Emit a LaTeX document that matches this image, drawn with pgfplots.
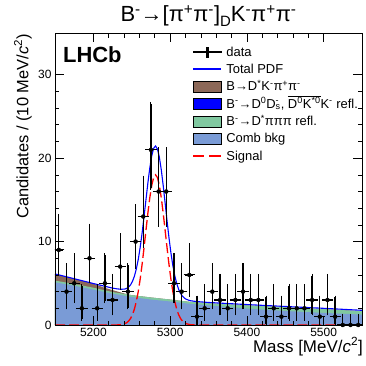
\documentclass[border=0pt]{standalone}
\usepackage{fontspec}
\setmainfont{Liberation Sans}
\usepackage{pgfplots}
\usepackage{pgfplotstable}
\pgfplotsset{compat=1.18}

\definecolor{combc}{RGB}{122,155,214}
\definecolor{greenc}{RGB}{128,200,160}
\definecolor{brownc}{RGB}{140,104,88}
\definecolor{dblue}{RGB}{0,0,255}

% data: 10 MeV bins, asymmetric Poisson errors
\pgfplotstableread{
x    y  ex ep   em
5155 9  5 4.11 2.94
5165 4  5 3.16 1.91
5175 5  5 3.38 2.16
5185 2  5 2.64 1.29
5195 8  5 3.95 2.77
5205 2  5 2.64 1.29
5215 5  5 3.38 2.16
5225 3  5 2.92 1.63
5235 7  5 3.77 2.58
5245 4  5 3.16 1.91
5255 10 5 4.27 3.11
5265 13 5 4.70 3.57
5275 21 5 5.53 4.56
5285 16 5 5.06 4.00
5295 16 5 5.06 4.00
5305 5  5 3.38 2.16
5315 4  5 3.16 1.91
5325 6  5 3.58 2.38
5335 1  5 2.30 0.83
5345 2  5 2.64 1.29
5355 4  5 3.16 1.91
5365 3  5 2.92 1.63
5375 2  5 2.64 1.29
5385 3  5 2.92 1.63
5395 4  5 3.16 1.91
5405 3  5 2.92 1.63
5415 3  5 2.92 1.63
5425 1  5 2.30 0.83
5435 2  5 2.64 1.29
5445 1  5 2.30 0.83
5455 2  5 2.64 1.29
5465 2  5 2.64 1.29
5475 2  5 2.64 1.29
5485 3  5 2.92 1.63
5495 1  5 2.30 0.83
5505 3  5 2.92 1.63
5515 1  5 2.30 0.83
5525 0  5 1.15 0
5535 0  5 1.15 0
5545 0  5 1.15 0
}\datatab

\newcommand{\sups}[1]{\textsuperscript{#1}}
\newcommand{\Ds}{D\makebox[0pt][l]{\textsuperscript{-}}\textsubscript{s}}

\begin{document}
\begin{tikzpicture}
\useasboundingbox (-55bp,-41bp) rectangle (311bp,325bp);
\begin{axis}[
  at={(0,0)}, anchor=south west,
  scale only axis, width=307bp, height=292bp,
  xmin=5150, xmax=5550, ymin=0, ymax=35,
  xtick={5200,5300,5400,5500}, minor x tick num=4,
  ytick={0,10,20,30}, minor y tick num=4,
  tick align=inside, xtick pos=both, ytick pos=both,
  xticklabel pos=lower, yticklabel pos=left,
  major tick length=9bp, minor tick length=4.5bp,
  axis line style={line width=0.8bp},
  every tick/.style={black, line width=0.6bp},
  tick label style={font=\fontsize{12}{14}\selectfont},
  /pgf/number format/assume math mode=true,
  /pgf/number format/1000 sep={},
  axis on top,
  legend cell align=left,
  legend style={at={(rel axis cs:0.4495,0.9546)}, anchor=north west,
    draw=none, fill=none, inner sep=0pt, outer sep=0pt,
    row sep=5.8bp, column sep=5bp,
    font=\fontsize{13}{15}\selectfont,
    nodes={inner sep=0pt, text height=10bp, text depth=1.5bp}},
]
% legend, in the reference's order
\addlegendimage{legend image code/.code={
  \fill[fill=black] (0bp,-0.6bp) rectangle (28bp,0.6bp);
  \fill[fill=black] (13.4bp,-5bp) rectangle (14.6bp,5bp);
  \fill[fill=black] (14bp,0bp) circle (1.9bp);}}
\addlegendentry{data}
\addlegendimage{legend image code/.code={
  \fill[fill=dblue, draw=none] (0bp,-1bp) rectangle (28bp,1bp);}}
\addlegendentry{Total PDF}
\addlegendimage{legend image code/.code={
  \fill[fill=brownc] (0bp,-5.5bp) rectangle (28bp,5.5bp);}}
\addlegendentry{B→D\sups{*}K\sups{-}π\sups{+}π\sups{-}}
\addlegendimage{legend image code/.code={
  \fill[fill=dblue] (0bp,-5.5bp) rectangle (28bp,5.5bp);}}
\addlegendentry{B\sups{-}→D\sups{0}\Ds, $\overline{\mbox{D\sups{0}K\sups{*0}}}$K\sups{-} refl.}
\addlegendimage{legend image code/.code={
  \fill[fill=greenc] (0bp,-5.5bp) rectangle (28bp,5.5bp);}}
\addlegendentry{B\sups{-}→D\sups{*}πππ refl.}
\addlegendimage{legend image code/.code={
  \fill[fill=combc] (0bp,-5.5bp) rectangle (28bp,5.5bp);}}
\addlegendentry{Comb bkg}
\addlegendimage{legend image code/.code={
  \fill[fill=red, draw=none] (0bp,-1bp) rectangle (11bp,1bp);
  \fill[fill=red, draw=none] (16bp,-1bp) rectangle (28bp,1bp);}}
\addlegendentry{Signal}

% stacked background components
\addplot[fill=brownc, draw=none, forget plot] coordinates {
 (5150,6.10) (5175,5.55) (5200,4.95) (5215,4.45) (5230,4.05) (5245,3.66)
 (5250,3.58) (5275,3.30) (5300,3.05) (5325,2.78) (5350,2.60) (5400,2.35)
 (5450,2.12) (5500,1.90) (5550,1.66)} \closedcycle;
\addplot[fill=greenc, draw=none, forget plot] coordinates {
 (5150,5.32) (5175,4.92) (5200,4.47) (5225,3.95) (5250,3.58) (5275,3.30)
 (5300,3.05) (5325,2.78) (5350,2.60) (5400,2.35) (5450,2.12) (5500,1.90)
 (5550,1.66)} \closedcycle;
\addplot[fill=combc, draw=none, forget plot] coordinates {
 (5150,5.12) (5175,4.70) (5200,4.25) (5225,3.75) (5250,3.35) (5275,3.05)
 (5300,2.82) (5325,2.55) (5350,2.35) (5400,1.98) (5450,1.68) (5500,1.45)
 (5550,1.25)} \closedcycle;

% signal
\addplot[red, line width=1.3bp, dash pattern=on 10bp off 4bp, forget plot] coordinates {
 (5150,0) (5200,0) (5220,0.001) (5226,0.002) (5231,0.011) (5236,0.045)
 (5241,0.158) (5243.5,0.281) (5246,0.480) (5248.5,0.791) (5251,1.256)
 (5253.5,1.921) (5256,2.833) (5258.5,4.025) (5261,5.512) (5263.5,7.274)
 (5266,9.251) (5268.5,11.337) (5271,13.390) (5273.5,15.240) (5276,16.717)
 (5278.5,17.670) (5281,18.000) (5283.5,17.670) (5286,16.717) (5288.5,15.240)
 (5291,13.390) (5293.5,11.337) (5296,9.251) (5298.5,7.274) (5301,5.512)
 (5303.5,4.025) (5306,2.833) (5308.5,1.921) (5311,1.256) (5313.5,0.791)
 (5316,0.480) (5318.5,0.281) (5321,0.158) (5326,0.045) (5331,0.011)
 (5336,0.002) (5345,0) (5550,0)};

% total PDF
\addplot[dblue, line width=1.1bp, forget plot] coordinates {
 (5150,6.12) (5175,5.55) (5200,4.97) (5220,4.53) (5225,4.42) (5231,4.33)
 (5236,4.28) (5241,4.31) (5243.5,4.39) (5246,4.55) (5248.5,4.82) (5251,5.24)
 (5253.5,5.86) (5256,6.73) (5258.5,7.87) (5261,9.31) (5263.5,11.03)
 (5266,12.96) (5268.5,15.00) (5271,17.01) (5273.5,18.82) (5276,20.25)
 (5278.5,21.17) (5281,21.46) (5283.5,21.09) (5286,20.10) (5288.5,18.59)
 (5291,16.70) (5293.5,14.61) (5296,12.48) (5298.5,10.47) (5301,8.67)
 (5303.5,7.15) (5306,5.93) (5308.5,4.99) (5311,4.30) (5313.5,3.80)
 (5316,3.46) (5318.5,3.24) (5321,3.08) (5326,2.92) (5331,2.85) (5336,2.80)
 (5350,2.70) (5400,2.45) (5450,2.22) (5500,2.00) (5550,1.76)};

% data: error bars, then the points on top
\addplot[black, draw=none, mark=none, forget plot,
  error bars/.cd, x dir=both, x explicit, y dir=both, y explicit,
  error bar style={line width=1.3bp, black, solid},
  error mark options={line width=1.1bp, mark size=1.8bp, black}]
  table[x=x, y=y, x error=ex, y error plus=ep, y error minus=em] {\datatab};
\addplot[only marks, mark=*, mark size=2bp, color=black, fill=black,
  mark options={solid, fill=black, draw=black}, forget plot]
  table[x=x, y=y] {\datatab};
\end{axis}

\node[anchor=base, inner sep=0pt, font=\fontsize{22}{24}\selectfont] at (153.5bp,303bp)
  {B\sups{-}→[π\sups{+}π\sups{-}]\raisebox{-5bp}{\fontsize{15}{15}\selectfont D}K\sups{-}π\sups{+}π\sups{-}};
\node[anchor=base west, inner sep=0pt, font=\fontsize{22}{24}\selectfont\bfseries] at (8bp,262bp) {LHCb};
\node[rotate=90, anchor=south east, inner sep=0pt, font=\fontsize{16.5}{19}\selectfont] at (-23bp,291bp)
  {Candidates / (10 MeV/\textit{c}\sups{2})};
\node[anchor=base east, inner sep=0pt, font=\fontsize{17}{19}\selectfont] at (308bp,-27bp)
  {Mass [MeV/\textit{c}\sups{2}]};
\end{tikzpicture}
\end{document}
